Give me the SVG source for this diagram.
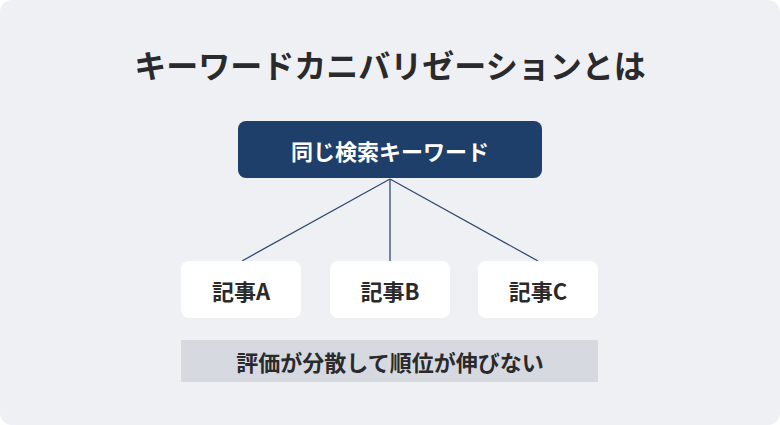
<svg xmlns="http://www.w3.org/2000/svg" width="780" height="425" viewBox="0 0 780 425">
<style>
.t{font-family:"Noto Sans CJK JP","Noto Sans",sans-serif;font-weight:700;text-anchor:middle;dominant-baseline:central}
.card{fill:#ffffff}
.lbl{font-size:22px;fill:#2a2a2c}
.conn{stroke:#2f4a73;stroke-width:1.3;fill:none}
</style>
<rect width="780" height="425" fill="#ffffff"/>
<rect width="780" height="425" rx="12" fill="#eff0f4"/>
<text class="t" x="390" y="64" font-size="32" fill="#2a2a2c">キーワードカニバリゼーションとは</text>
<g id="connectors">
<line class="conn" x1="390" y1="179" x2="242" y2="261"/>
<line class="conn" x1="390" y1="179" x2="390" y2="261"/>
<line class="conn" x1="390" y1="179" x2="538" y2="261"/>
</g>
<g id="keyword">
<rect x="238" y="121" width="304" height="57" rx="8" fill="#1f3f6b"/>
<text class="t" x="390" y="150" font-size="22" fill="#ffffff">同じ検索キーワード</text>
</g>
<g id="articleA">
<rect class="card" x="181" y="261" width="120" height="57" rx="8"/>
<text class="t lbl" x="241" y="290">記事A</text>
</g>
<g id="articleB">
<rect class="card" x="330" y="261" width="120" height="57" rx="8"/>
<text class="t lbl" x="390" y="290">記事B</text>
</g>
<g id="articleC">
<rect class="card" x="478" y="261" width="120" height="57" rx="8"/>
<text class="t lbl" x="538" y="290">記事C</text>
</g>
<g id="result">
<rect x="181" y="340" width="417" height="42" fill="#d6d9e0"/>
<text class="t" x="390" y="361" font-size="22" fill="#2a2a2c">評価が分散して順位が伸びない</text>
</g>
</svg>
